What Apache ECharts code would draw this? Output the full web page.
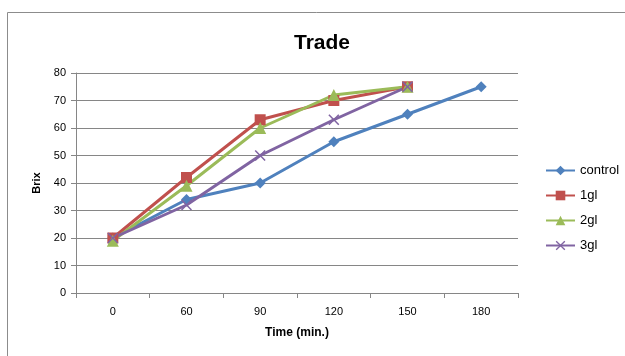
<!DOCTYPE html>
<html><head><meta charset="utf-8">
<script src="https://cdn.jsdelivr.net/npm/echarts@6/dist/echarts.min.js"></script>
<style>html,body{margin:0;padding:0;background:#fff}#c{width:625px;height:356px}</style>
</head><body><div id="c"></div>
<script>
const categories = ['0','60','90','120','150','180'];
const control = [20, 34, 40, 55, 65, 75];
const gl1 = [20, 42, 63, 70, 75, null];
const gl2 = [19, 39, 60, 72, 75, null];
const gl3 = [20, 32, 50, 63, 75, null];
const yTicks = [0, 10, 20, 30, 40, 50, 60, 70, 80];

const FONT = '"Liberation Sans", Arial, sans-serif';
const crossPath = 'path://M1,0L5,4L9,0L10,1L6,5L10,9L9,10L5,6L1,10L0,9L4,5L0,1Z';

function mk(name, data, color, symbol, size) {
  return {
    name, type: 'line', data, symbol, symbolSize: size,
    lineStyle: { color, width: 3 },
    itemStyle: { color },
    connectNulls: false, animation: false
  };
}

const chart = echarts.init(document.getElementById('c'), null, { renderer: 'canvas' });
chart.setOption({
  animation: false,
  backgroundColor: '#fff',
  graphic: [{ type: 'rect', shape: { x: 7.5, y: 12.5, width: 700, height: 400 }, style: { fill: 'none', stroke: '#8c8c8c', lineWidth: 1 } }],
  title: { text: 'Trade', left: 289, top: 28,
    textStyle: { fontFamily: FONT, fontSize: 21, fontWeight: 'bold', color: '#000' } },
  grid: { left: 76, right: 107, top: 73, bottom: 63 },
  legend: {
    orient: 'vertical', left: 540, top: 159, itemGap: 12, itemWidth: 29, itemHeight: 12,
    textStyle: { fontFamily: FONT, fontSize: 13, color: '#000' },
    data: ['control', '1gl', '2gl', '3gl']
  },
  xAxis: {
    type: 'category', data: categories, boundaryGap: true,
    name: 'Time (min.)', nameLocation: 'middle', nameGap: 34,
    nameTextStyle: { fontFamily: FONT, fontSize: 12, fontWeight: 'bold', color: '#000' },
    axisLine: { lineStyle: { color: '#868686' } },
    axisTick: { show: true, length: 5, lineStyle: { color: '#868686' } },
    axisLabel: { fontFamily: FONT, fontSize: 11, color: '#000', margin: 13 }
  },
  yAxis: {
    type: 'value', min: 0, max: 80, interval: 10,
    name: 'Brix', nameLocation: 'middle', nameGap: 32, nameRotate: 90,
    nameTextStyle: { fontFamily: FONT, fontSize: 11, fontWeight: 'bold', color: '#000' },
    axisLine: { show: true, lineStyle: { color: '#868686' } },
    axisTick: { show: true, length: 5, lineStyle: { color: '#868686' } },
    axisLabel: { fontFamily: FONT, fontSize: 11, color: '#000', margin: 10,
      formatter: v => yTicks.includes(v) ? String(v) : '' },
    splitLine: { lineStyle: { color: '#868686', width: 1 } }
  },
  series: [
    mk('control', control, '#4F81BD', 'diamond', 11),
    mk('1gl', gl1, '#C0504D', 'rect', 11),
    mk('2gl', gl2, '#9BBB59', 'triangle', 12),
    mk('3gl', gl3, '#8064A2', crossPath, 11)
  ]
});
</script></body></html>
